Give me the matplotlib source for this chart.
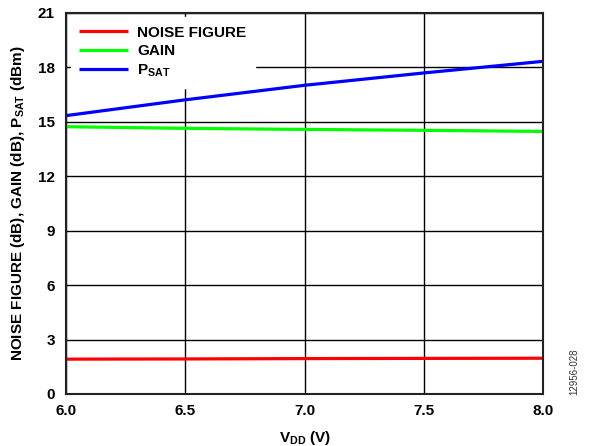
import matplotlib
matplotlib.use("Agg")

import matplotlib.pyplot as plt


# ---------- DATA ----------
vdd = [6.0, 6.5, 7.0, 7.5, 8.0]
noise_figure = [1.92, 1.93, 1.95, 1.96, 1.97]
gain = [14.72, 14.63, 14.57, 14.52, 14.46]
psat = [15.33, 16.2, 17.0, 17.68, 18.32]

x_ticks = [6.0, 6.5, 7.0, 7.5, 8.0]
y_ticks = [0, 3, 6, 9, 12, 15, 18, 21]

# ---------- STYLE ----------
plt.rcParams["font.family"] = ["Liberation Sans", "DejaVu Sans"]
plt.rcParams["font.weight"] = "bold"
plt.rcParams["mathtext.fontset"] = "custom"
plt.rcParams["mathtext.rm"] = "Liberation Sans:bold"
plt.rcParams["mathtext.bf"] = "Liberation Sans:bold"
plt.rcParams["mathtext.it"] = "Liberation Sans:bold"

fig = plt.figure(figsize=(5.93, 4.46), dpi=100)
ax = fig.add_axes([0.1113, 0.1166, 0.8044, 0.855])

ax.plot(vdd, noise_figure, color="#ff0000", lw=2.3, label="NOISE FIGURE",
        solid_capstyle="butt")
ax.plot(vdd, gain, color="#00ff00", lw=2.3, label="GAIN",
        solid_capstyle="butt")
ax.plot(vdd, psat, color="#0000ff", lw=2.3, label=r"P$_{\mathrm{SAT}}$",
        solid_capstyle="butt")

ax.set_xlim(6.0, 8.0)
ax.set_ylim(0, 21)
ax.set_xticks(x_ticks)
ax.set_xticklabels([f"{v:.1f}" for v in x_ticks])
ax.set_yticks(y_ticks)
ax.tick_params(length=0, labelsize=11)
ax.tick_params(axis="y", pad=8)
ax.tick_params(axis="x", pad=7)
ax.grid(True, color="black", lw=1.0)
ax.set_axisbelow(True)
for s in ax.spines.values():
    s.set_linewidth(1.5)
    s.set_color("#222222")

ax.set_xlabel(r"V$_{\mathrm{DD}}$ (V)", fontsize=11, fontweight="bold", labelpad=8)
ax.set_ylabel(r"NOISE FIGURE (dB), GAIN (dB), P$_{\mathrm{SAT}}$ (dBm)",
              fontsize=11, fontweight="bold", labelpad=8)

leg = ax.legend(loc="upper left", fontsize=11, frameon=True, fancybox=False,
                handlelength=3.2, handletextpad=0.6, labelspacing=0.3,
                borderaxespad=0.3, borderpad=0.55)
leg.get_frame().set_facecolor("white")
leg.get_frame().set_edgecolor("white")
leg.get_frame().set_alpha(1.0)

fig.text(0.968, 0.115, "12956-028", rotation=90, fontsize=7,
         fontweight="normal", color="#333333", ha="center", va="bottom")

fig.savefig("out.png", dpi=100)
